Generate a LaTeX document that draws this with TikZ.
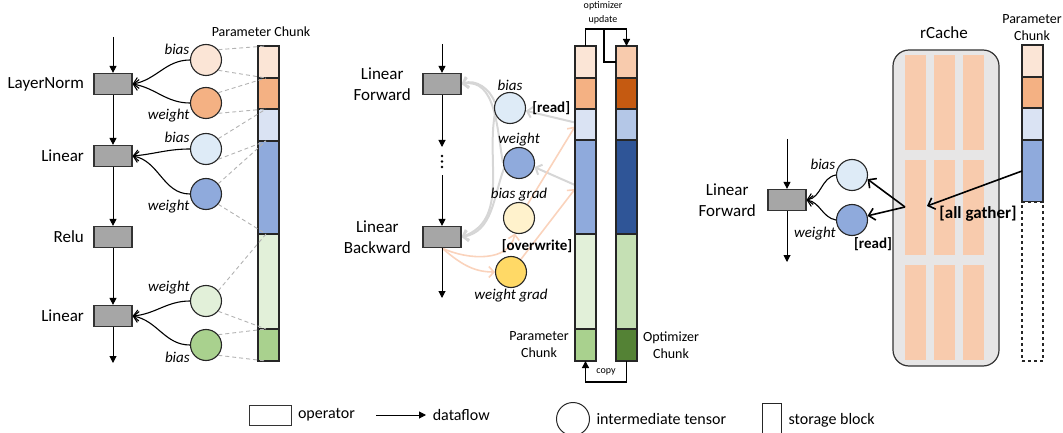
\documentclass[tikz,border=0pt]{standalone}
\usepackage{fontspec}
\setmainfont{Carlito}
\usetikzlibrary{arrows.meta,positioning,backgrounds}

\definecolor{pc1}{HTML}{FBE5D6}
\definecolor{pc2}{HTML}{F4B183}
\definecolor{pc3}{HTML}{DAE3F3}
\definecolor{pc4}{HTML}{8FAADC}
\definecolor{pc5}{HTML}{E2F0D9}
\definecolor{pc6}{HTML}{A9D18E}
\definecolor{oc1}{HTML}{F8CBAD}
\definecolor{oc2}{HTML}{C55A11}
\definecolor{oc3}{HTML}{B4C7E7}
\definecolor{oc4}{HTML}{2F5597}
\definecolor{oc5}{HTML}{C5E0B4}
\definecolor{oc6}{HTML}{548235}
\definecolor{biasblue}{HTML}{DEEBF7}
\definecolor{bgrad}{HTML}{FFF2CC}
\definecolor{wgrad}{HTML}{FFD966}
\definecolor{opgrey}{HTML}{A6A6A6}
\definecolor{cachegrey}{HTML}{E7E6E6}
\definecolor{readgrey}{HTML}{D6D6D6}
\definecolor{gradpeach}{HTML}{FAD3BC}
\definecolor{guidegrey}{HTML}{B3B3B3}

\tikzset{
  op/.style={draw=black!80, fill=opgrey, line width=1.2pt, minimum width=38pt, minimum height=21pt, inner sep=0pt},
  tensor/.style={circle, draw=black!85, line width=1.1pt, minimum size=31pt, inner sep=0pt},
  seg/.style={draw=black!85, line width=1.2pt, minimum width=21pt, inner sep=0pt, outer sep=0pt},
  flow/.style={-{Triangle[length=7pt,width=7pt]}, line width=1pt},
  feed/.style={-{Straight Barb[length=5pt,width=11pt]}, line width=1.1pt},
  readflow/.style={-{Straight Barb[length=5pt,width=11pt]}, line width=2pt, draw=readgrey},
  gradflow/.style={-{Straight Barb[length=5pt,width=11pt]}, line width=1.6pt, draw=gradpeach},
  gather/.style={-{Straight Barb[length=6pt,width=12pt]}, line width=1.6pt},
  guide/.style={draw=guidegrey, dashed, dash pattern=on 4pt off 3pt, line width=0.9pt},
  oplabel/.style={font=\fontsize{17}{21}\selectfont, align=center},
  tname/.style={font=\fontsize{15}{17}\selectfont\itshape, inner sep=1pt},
  tag/.style={font=\fontsize{15}{17}\selectfont\bfseries, inner sep=1pt},
  chunklabel/.style={font=\fontsize{14}{17}\selectfont, align=center},
  legtext/.style={font=\fontsize{16}{19}\selectfont},
  tiny/.style={font=\fontsize{10}{14}\selectfont, align=center},
}

\begin{document}
\begin{tikzpicture}[x=1pt, y=1pt]
    \useasboundingbox (0,0) rectangle (1063,-433);

    % left: forward pass over the parameter chunk
    \coordinate (lin) at (113,-37);
    \coordinate (lout) at (113,-363);
    \node[op] (ln) at (113,-84) {};
    \node[op] (l1) at (113,-156) {};
    \node[op] (lr) at (113,-237) {};
    \node[op] (l2) at (113,-316) {};
    \node[oplabel, left=6pt of ln] {LayerNorm};
    \node[oplabel, left=6pt of l1] {Linear};
    \node[oplabel, left=6pt of lr] {Relu};
    \node[oplabel, left=6pt of l2] {Linear};
    \draw[flow] (lin) -- (ln);
    \draw[flow] (ln) -- (l1);
    \draw[flow] (l1) -- (lr);
    \draw[flow] (lr) -- (l2);
    \draw[flow] (l2) -- (lout);

    \node[tensor, fill=pc1, label={[tname]165:bias}] (lb1) at (206,-60) {};
    \node[tensor, fill=pc2, label={[tname]197:weight}] (lw1) at (206,-103) {};
    \node[tensor, fill=biasblue, label={[tname]163:bias}] (lb2) at (206,-149) {};
    \node[tensor, fill=pc4, label={[tname]197:weight}] (lw2) at (206,-194) {};
    \node[tensor, fill=pc5, label={[tname]160:weight}] (lw3) at (206,-301) {};
    \node[tensor, fill=pc6, label={[tname]200:bias}] (lb3) at (206,-345) {};
    \draw[feed] (lb1.west) to[out=180,in=10] (ln.east);
    \draw[feed] (lw1.west) to[out=180,in=-10] (ln.east);
    \draw[feed] (lb2.west) to[out=180,in=5] (l1.east);
    \draw[feed] (lw2.west) to[out=180,in=-10] (l1.east);
    \draw[feed] (lw3.west) to[out=180,in=5] (l2.east);
    \draw[feed] (lb3.west) to[out=180,in=-10] (l2.east);

    \foreach \t/\b/\c [count=\i] in {46/78/pc1,78/109/pc2,109/141/pc3,141/234/pc4,234/329/pc5,329/361/pc6}
        \node[seg, fill=\c, minimum height={(\b-\t)*1pt}] (L\i) at (268.5,{-(\t+\b)/2}) {};
    \node[chunklabel] at (261,-32) {Parameter Chunk};
    \foreach \n/\s in {lb1/L1,lw1/L2,lb2/L3,lw2/L4,lw3/L5,lb3/L6} {
        \draw[guide] (\n.40) -- ([xshift=8pt]\s.north west);
        \draw[guide] (\n.-40) -- ([xshift=8pt]\s.south west);
    }

    % middle: forward, backward and optimizer update
    \coordinate (min) at (442,-44);
    \coordinate (mgap1) at (442,-147);
    \coordinate (mgap2) at (442,-175);
    \coordinate (mout) at (442,-298);
    \node[op] (mf) at (442,-84) {};
    \node[op] (mb) at (442,-237) {};
    \node[oplabel, left=8pt of mf] {Linear\\Forward};
    \node[oplabel, left=8pt of mb] {Linear\\Backward};
    \draw[flow] (min) -- (mf);
    \draw[flow] (mf) -- (mgap1);
    \fill (442,-156) circle (1.3pt) (442,-161.5) circle (1.3pt) (442,-167) circle (1.3pt);
    \draw[flow] (mgap2) -- (mb);
    \draw[flow] (mb) -- (mout);

    \foreach \t/\b/\c [count=\i] in {46/78/pc1,78/109/pc2,109/140/pc3,140/234/pc4,234/329/pc5,329/361/pc6}
        \node[seg, fill=\c, minimum height={(\b-\t)*1pt}] (M\i) at (585.5,{-(\t+\b)/2}) {};
    \foreach \t/\b/\c [count=\i] in {46/78/oc1,78/109/oc2,109/140/oc3,140/234/oc4,234/329/oc5,329/361/oc6}
        \node[seg, fill=\c, minimum height={(\b-\t)*1pt}] (O\i) at (626.5,{-(\t+\b)/2}) {};
    \node[chunklabel] at (539,-345) {Parameter\\Chunk};
    \node[chunklabel] at (671,-345) {Optimizer\\Chunk};

    \coordinate (upd) at (604,-29);
    \draw[flow, line width=1.2pt] (M1.north) |- (upd) -| (O1.north);
    \draw[line width=1.2pt] (upd) |- (O1.west);
    \node[tiny] at (603,-13) {optimizer\\update};
    \draw[flow, line width=1.2pt] (O6.south) -- ++(0,-21) -| (M6.south);
    \node[tiny] at (606,-372) {copy};

    \node[tensor, fill=biasblue, label={[tname]above:bias}] (mbias) at (510,-108) {};
    \node[tensor, fill=pc4, label={[tname]above:weight}] (mw) at (519,-163) {};
    \node[tensor, fill=bgrad, label={[tname]above:bias grad}] (mbg) at (519,-218) {};
    \node[tensor, fill=wgrad, label={[tname]below:weight grad}] (mwg) at (511,-272) {};

    \begin{pgfonlayer}{background}
    \draw[readflow] (mbias.160) to[out=110,in=20] (mf.east);
    \draw[readflow] (mw.west) to[out=100,in=10] (mf.east);
    \draw[readflow] (mbias.200) to[out=-100,in=20] (mb.east);
    \draw[readflow] (mw.200) to[out=-110,in=10] (mb.east);
    \draw[readflow] ([yshift=2pt]M3.west) -- (mbias.-10);
    \draw[readflow] ([yshift=2pt]M4.west) -- (mw.-15);
    \draw[gradflow] (mb.south) to[out=-40,in=180] (mwg.west);
    \draw[gradflow] (mb.south) to[out=-25,in=-100] (mbg.-105);
    \draw[gradflow] (mbg.58) -- ([yshift=-2pt]M3.west);
    \draw[gradflow] (mwg.52) -- ([yshift=-2pt]M4.west);
    \end{pgfonlayer}
    \node[tag, right=5pt of mbias] {[read]};
    \node[tag] at (537,-246) {[overwrite]};

    % right: rCache all gather
    \coordinate (rin) at (787,-139);
    \coordinate (rout) at (787,-262);
    \node[op] (rf) at (787,-200) {};
    \node[oplabel, left=8pt of rf] {Linear\\Forward};
    \draw[flow] (rin) -- (rf);
    \draw[flow] (rf) -- (rout);

    \node[draw=black!80, fill=cachegrey, line width=1.2pt, rounded corners=16pt,
          minimum width=106pt, minimum height=316pt, inner sep=0pt] (rc) at (946,-208) {};
    \node[oplabel] at (944,-33) {rCache};
    \foreach \x in {915.5,944.5,973.5}
        \foreach \y in {-102.5,-207.5,-312.5}
            \fill[oc1] (\x-10.5,\y-47.5) rectangle (\x+10.5,\y+47.5);

    \foreach \t/\b/\c [count=\i] in {45/77/pc1,77/108/pc2,108/140/pc3,140/202/pc4}
        \node[seg, fill=\c, minimum height={(\b-\t)*1pt}] (R\i) at (1032.5,{-(\t+\b)/2}) {};
    \node[seg, fill=white, dashed, minimum height=159pt] (R5) at (1032.5,-281.5) {};
    \node[chunklabel] at (1032,-28) {Parameter\\Chunk};

    \node[tensor, fill=biasblue, label={[tname]165:bias}] (rb) at (852,-175) {};
    \node[tensor, fill=pc4, label={[tname]200:weight}] (rw) at (852,-220) {};
    \draw[feed] (rb.west) to[out=190,in=10] (rf.east);
    \draw[feed] (rw.west) to[out=170,in=-10] (rf.east);
    \node[tag] at (873,-244) {[read]};

    \coordinate (fork) at (905,-207);
    \coordinate (ag) at (927,-206);
    \draw[gather] (R4.west) -- (ag);
    \draw[gather] (fork) -- (rb.-15);
    \draw[gather] (fork) -- (rw.15);
    \node[tag, font=\fontsize{17}{19}\selectfont\bfseries] at (978,-214) {[all gather]};

    % legend
    \node[op, fill=white, minimum width=42pt, minimum height=20pt, line width=1pt] (lgop) at (270,-415) {};
    \node[legtext, right=3pt of lgop] {operator};
    \coordinate (lgfa) at (376,-415);
    \coordinate (lgfb) at (426,-415);
    \draw[flow] (lgfa) -- (lgfb) node[legtext, right=3pt] {dataflow};
    \node[tensor, line width=1pt, minimum size=33pt] (lgt) at (573,-419) {};
    \node[legtext, right=3pt of lgt] {intermediate tensor};
    \node[draw=black!85, line width=1pt, minimum width=19pt, minimum height=34pt] (lgs) at (772,-420) {};
    \node[legtext, right=3pt of lgs] {storage block};
\end{tikzpicture}
\end{document}
